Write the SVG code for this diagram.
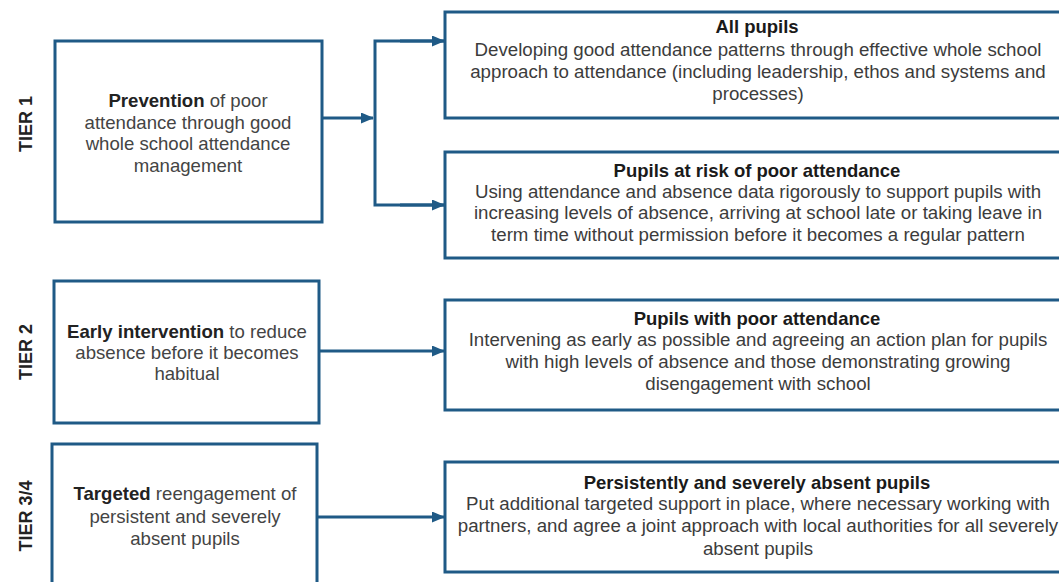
<svg xmlns="http://www.w3.org/2000/svg" width="1059" height="582" viewBox="0 0 1059 582">
<defs>
<style>
.box{fill:#fff;stroke:#1f5a86;stroke-width:3}
.con{fill:none;stroke:#1f5a86;stroke-width:3}
.tier{font-family:"Liberation Sans",Arial,sans-serif;font-weight:bold;font-size:18px;fill:#222;text-anchor:middle}
.lt{font-family:"Liberation Sans",Arial,sans-serif;font-size:18.6px;fill:#444;text-anchor:middle}
.lt tspan.b{font-weight:bold;fill:#222}
.rt{font-family:"Liberation Sans",Arial,sans-serif;font-size:18.7px;fill:#3c3c3c;text-anchor:middle}
.rh{font-family:"Liberation Sans",Arial,sans-serif;font-size:18.5px;font-weight:bold;fill:#1a1a1a;text-anchor:middle}
</style>
<marker id="ah" markerWidth="13" markerHeight="11" refX="12" refY="5.5" orient="auto" markerUnits="userSpaceOnUse">
<path d="M0,0 L13,5.5 L0,11 Z" fill="#1f5a86"/>
</marker>
</defs>
<rect width="1059" height="582" fill="#fff"/>

<g id="tier-labels">
<text class="tier" transform="translate(32,124) rotate(-90)">TIER 1</text>
<text class="tier" transform="translate(32,352) rotate(-90)">TIER 2</text>
<text class="tier" transform="translate(32,516) rotate(-90)">TIER 3/4</text>
</g>

<g id="connectors">
<path class="con" d="M322,118 H373" marker-end="url(#ah)"/>
<path class="con" d="M444,41 H375 V205 H444"/>
<path class="con" d="M400,41 H444" marker-end="url(#ah)"/>
<path class="con" d="M400,205 H444" marker-end="url(#ah)"/>
<path class="con" d="M319,351 H444" marker-end="url(#ah)"/>
<path class="con" d="M317,517 H444" marker-end="url(#ah)"/>
</g>

<g id="prevention">
<rect class="box" x="55" y="41" width="267" height="181"/>
<text class="lt" x="188" y="107"><tspan class="b">Prevention</tspan> of poor</text>
<text class="lt" x="188" y="129">attendance through good</text>
<text class="lt" x="188" y="150">whole school attendance</text>
<text class="lt" x="188" y="172">management</text>
</g>

<g id="early-intervention">
<rect class="box" x="54" y="281" width="265" height="142"/>
<text class="lt" x="187" y="338"><tspan class="b">Early intervention</tspan> to reduce</text>
<text class="lt" x="187" y="359">absence before it becomes</text>
<text class="lt" x="187" y="380">habitual</text>
</g>

<g id="targeted">
<rect class="box" x="52" y="444" width="265" height="160"/>
<text class="lt" x="185" y="500"><tspan class="b">Targeted</tspan> reengagement of</text>
<text class="lt" x="185" y="523">persistent and severely</text>
<text class="lt" x="185" y="545">absent pupils</text>
</g>

<g id="all-pupils">
<rect class="box" x="445" y="12" width="624" height="106"/>
<text class="rh" x="757" y="33">All pupils</text>
<text class="rt" x="758" y="56">Developing good attendance patterns through effective whole school</text>
<text class="rt" x="758" y="78">approach to attendance (including leadership, ethos and systems and</text>
<text class="rt" x="758" y="100">processes)</text>
</g>

<g id="at-risk">
<rect class="box" x="445" y="152" width="624" height="106"/>
<text class="rh" x="757" y="177">Pupils at risk of poor attendance</text>
<text class="rt" x="758" y="198">Using attendance and absence data rigorously to support pupils with</text>
<text class="rt" x="758" y="219">increasing levels of absence, arriving at school late or taking leave in</text>
<text class="rt" x="758" y="241">term time without permission before it becomes a regular pattern</text>
</g>

<g id="poor-attendance">
<rect class="box" x="445" y="300" width="624" height="110"/>
<text class="rh" x="757" y="325">Pupils with poor attendance</text>
<text class="rt" x="758" y="346">Intervening as early as possible and agreeing an action plan for pupils</text>
<text class="rt" x="758" y="368">with high levels of absence and those demonstrating growing</text>
<text class="rt" x="758" y="390">disengagement with school</text>
</g>

<g id="persistent">
<rect class="box" x="445" y="462" width="624" height="110"/>
<text class="rh" x="757" y="489">Persistently and severely absent pupils</text>
<text class="rt" x="758" y="510">Put additional targeted support in place, where necessary working with</text>
<text class="rt" x="758" y="532">partners, and agree a joint approach with local authorities for all severely</text>
<text class="rt" x="758" y="555">absent pupils</text>
</g>
</svg>
